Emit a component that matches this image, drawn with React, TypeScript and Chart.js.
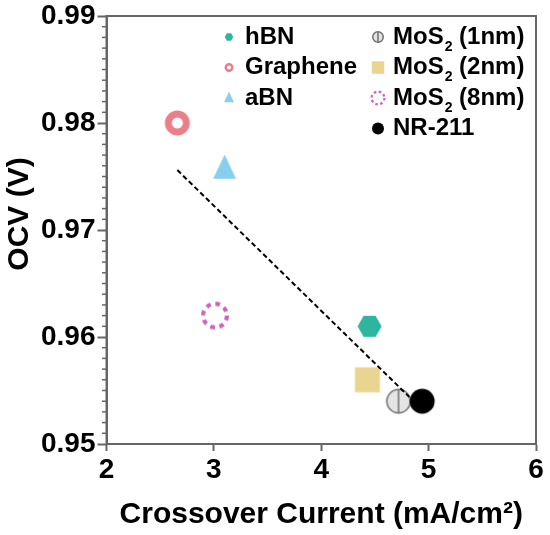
import { useEffect, useRef } from "react";
import { Chart, registerables } from "chart.js";

Chart.register(...registerables);

// data
const materials = ["hBN", "Graphene", "aBN", "MoS2 (1nm)", "MoS2 (2nm)", "MoS2 (8nm)", "NR-211"];
const crossoverCurrent = [4.45, 2.66, 3.1, 4.72, 4.43, 3.01, 4.94];
const ocvValues = [0.961, 0.98, 0.9757, 0.954, 0.956, 0.962, 0.954];
const fitCurrent = [2.66, 4.82];
const fitOcv = [0.9756, 0.9544];
const xTicks = [2, 3, 4, 5, 6];
const yTicks = [0.95, 0.96, 0.97, 0.98, 0.99];
const yTitle = "OCV (V)";

type Kind = "hex" | "ring" | "tri" | "split" | "square" | "dotted" | "dot";
const markerKinds: Kind[] = ["hex", "ring", "tri", "split", "square", "dotted", "dot"];
const plotSizes = [24, 25, 23, 25, 25, 28, 25];
const legendSizes = [8.5, 9, 10, 12, 12.5, 15, 12];

const FONT = '"Liberation Sans", Arial, sans-serif';

function paintMarker(ctx: CanvasRenderingContext2D, kind: Kind, cx: number, cy: number, d: number) {
    const r = d / 2;
    ctx.save();
    ctx.beginPath();
    switch (kind) {
        case "hex":
            for (let i = 0; i < 6; i++) {
                const a = (Math.PI / 3) * i;
                const px = cx + r * Math.cos(a);
                const py = cy + r * Math.sin(a);
                if (i === 0) ctx.moveTo(px, py);
                else ctx.lineTo(px, py);
            }
            ctx.closePath();
            ctx.fillStyle = "#2db5a0";
            ctx.fill();
            break;
        case "ring": {
            const w = d * 0.28;
            ctx.arc(cx, cy, r - w / 2, 0, Math.PI * 2);
            ctx.lineWidth = w;
            ctx.strokeStyle = "#ea7f8b";
            ctx.stroke();
            break;
        }
        case "tri": {
            const h = d * 1.05;
            ctx.moveTo(cx, cy - h * 0.6);
            ctx.lineTo(cx + r, cy + h * 0.4);
            ctx.lineTo(cx - r, cy + h * 0.4);
            ctx.closePath();
            ctx.fillStyle = "#88cfee";
            ctx.fill();
            break;
        }
        case "split":
            ctx.arc(cx, cy, r - 0.75, 0, Math.PI * 2);
            ctx.fillStyle = "#e4e4e4";
            ctx.fill();
            ctx.lineWidth = 1.5;
            ctx.strokeStyle = "#707070";
            ctx.stroke();
            ctx.beginPath();
            ctx.moveTo(cx, cy - r + 0.75);
            ctx.lineTo(cx, cy + r - 0.75);
            ctx.stroke();
            break;
        case "square":
            ctx.fillStyle = "#ead590";
            ctx.fillRect(cx - r, cy - r, d, d);
            break;
        case "dotted": {
            const w = d * 0.15;
            const rr = r - w / 2;
            const seg = (Math.PI * 2 * rr) / 16;
            ctx.arc(cx, cy, rr, 0, Math.PI * 2);
            ctx.setLineDash([seg, seg]);
            ctx.lineWidth = w;
            ctx.strokeStyle = "#d560bb";
            ctx.stroke();
            break;
        }
        case "dot":
            ctx.arc(cx, cy, r, 0, Math.PI * 2);
            ctx.fillStyle = "#000";
            ctx.fill();
            break;
    }
    ctx.restore();
}

function makeMarkerImage(kind: Kind, d: number) {
    const size = Math.ceil(d * 1.2) + 4;
    const c = document.createElement("canvas");
    c.width = size;
    c.height = size;
    const ctx = c.getContext("2d")!;
    paintMarker(ctx, kind, size / 2, size / 2, d);
    return c;
}

// legend drawn inside the plot, two columns
const boxLegend = {
    id: "boxLegend",
    afterDraw(chart: Chart) {
        const { ctx, chartArea } = chart;
        const columns = [[0, 1, 2], [3, 4, 5, 6]];
        const markerX = [122.5, 271.5];
        const textX = [138.5, 286.5];
        ctx.save();
        ctx.fillStyle = "#000";
        ctx.textBaseline = "middle";
        columns.forEach((col, ci) => {
            col.forEach((idx, ri) => {
                const y = chartArea.top + 21 + ri * 30.5;
                paintMarker(ctx, markerKinds[idx], chartArea.left + markerX[ci], y, legendSizes[idx]);
                let x = chartArea.left + textX[ci];
                const name = materials[idx];
                ctx.font = `bold 24px ${FONT}`;
                if (name.startsWith("MoS2")) {
                    ctx.fillText("MoS", x, y);
                    x += ctx.measureText("MoS").width;
                    ctx.font = `bold 14px ${FONT}`;
                    ctx.fillText("2", x + 1, y + 10);
                    x += ctx.measureText("2").width + 1;
                    ctx.font = `bold 24px ${FONT}`;
                    ctx.fillText(name.slice(4), x, y);
                } else {
                    ctx.fillText(name, x, y);
                }
            });
        });
        ctx.restore();
    },
};

// frame around the plot, minor y ticks and the y title (sits a bit above centre)
const frameAndMinor = {
    id: "frameAndMinor",
    afterDraw(chart: Chart) {
        const { ctx, chartArea } = chart;
        const y = chart.scales.y;
        ctx.save();
        ctx.strokeStyle = "#666";
        ctx.lineWidth = 2;
        ctx.strokeRect(chartArea.left, chartArea.top, chartArea.right - chartArea.left, chartArea.bottom - chartArea.top);
        ctx.lineWidth = 1.5;
        const lo = yTicks[0];
        for (let i = 1; i < (yTicks.length - 1) * 10; i++) {
            if (i % 10 === 0) continue;
            const py = y.getPixelForValue(lo + i * 0.001);
            ctx.beginPath();
            ctx.moveTo(chartArea.left - 4.5, py);
            ctx.lineTo(chartArea.left, py);
            ctx.stroke();
        }
        ctx.translate(20, (chartArea.top + chartArea.bottom) / 2 - 16);
        ctx.rotate(-Math.PI / 2);
        ctx.fillStyle = "#000";
        ctx.font = `bold 30px ${FONT}`;
        ctx.textAlign = "center";
        ctx.textBaseline = "middle";
        ctx.fillText(yTitle, 0, 0);
        ctx.restore();
    },
};

export default function App() {
    const chartRef = useRef<HTMLCanvasElement | null>(null);
    useEffect(() => {
        const context = chartRef.current?.getContext("2d");
        if (!context) return;
        const images = markerKinds.map((k, i) => makeMarkerImage(k, plotSizes[i]));

        const chartInstance = new Chart(context, {
            type: "scatter",
            data: {
                datasets: [
                    {
                        //linear fit, dashed
                        type: "line",
                        data: fitCurrent.map((x, i) => ({ x, y: fitOcv[i] })),
                        borderColor: "#000",
                        borderWidth: 2,
                        borderDash: [5, 3],
                        pointRadius: 0,
                        fill: false,
                        order: 0,
                    },
                    {
                        data: crossoverCurrent.map((x, i) => ({ x, y: ocvValues[i] })),
                        pointStyle: images,
                        pointRadius: 12,
                        order: 1,
                    },
                ],
            },
            options: {
                responsive: false,
                animation: false,
                layout: { padding: { top: 15, right: 14, left: 0, bottom: 0 } },
                plugins: { legend: { display: false }, tooltip: { enabled: false } },
                scales: {
                    x: {
                        type: "linear",
                        min: xTicks[0],
                        max: xTicks[xTicks.length - 1],
                        afterBuildTicks: (s: any) => { s.ticks = xTicks.map(value => ({ value })); },
                        afterFit: (s: any) => { s.height = 91; },
                        grid: { drawOnChartArea: false, tickLength: 7, tickWidth: 2, tickColor: "#666" },
                        border: { color: "#666", width: 2 },
                        ticks: { color: "#000", padding: 5, font: { family: FONT, size: 28, weight: "bold", lineHeight: 1 } },
                        title: {
                            display: true,
                            text: "Crossover Current (mA/cm²)",
                            color: "#000",
                            font: { family: FONT, size: 30, weight: "bold", lineHeight: 1 },
                            padding: { top: 5, bottom: 5 },
                        },
                    },
                    y: {
                        type: "linear",
                        min: yTicks[0],
                        max: yTicks[yTicks.length - 1],
                        afterBuildTicks: (s: any) => { s.ticks = yTicks.map(value => ({ value })); },
                        afterFit: (s: any) => { s.width = 106.5; },
                        grid: { drawOnChartArea: false, tickLength: 9, tickWidth: 2, tickColor: "#666" },
                        border: { color: "#666", width: 2 },
                        ticks: {
                            color: "#000",
                            padding: 2,
                            font: { family: FONT, size: 28, weight: "bold", lineHeight: 1 },
                            callback: (v: any) => Number(v).toFixed(2),
                        },
                    },
                },
            },
            plugins: [frameAndMinor, boxLegend],
        } as any);
        return () => {
            chartInstance.destroy();
        };
    }, []);
    return (
        <div style={{ position: "absolute", left: 0, top: 0, width: 550, height: 535 }}>
            <canvas ref={chartRef} width={550} height={535} />
        </div>
    );
}
